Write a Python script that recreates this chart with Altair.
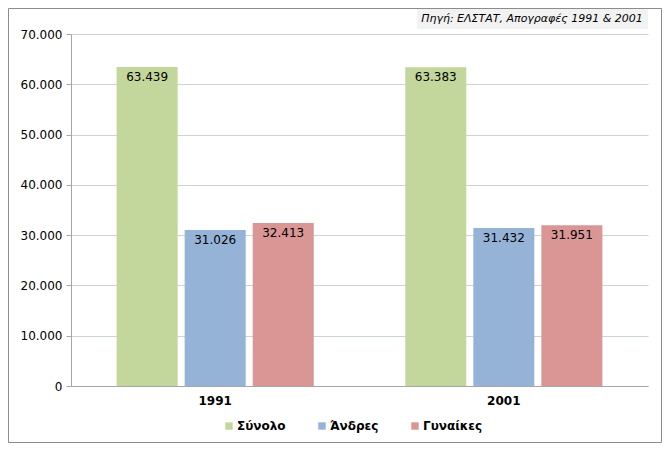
import altair as alt
import pandas as pd

years = ["1991", "2001"]
series = ["Σύνολο", "Άνδρες", "Γυναίκες"]
colors = ["#C3D69B", "#95B3D7", "#D99694"]
values_1991 = [63439, 31026, 32413]
values_2001 = [63383, 31432, 31951]
y_ticks = [0, 10000, 20000, 30000, 40000, 50000, 60000, 70000]
source_text = "Πηγή: ΕΛΣΤΑΤ, Απογραφές 1991 & 2001"

rows = []
for yr, vals in zip(years, [values_1991, values_2001]):
    for s, v in zip(series, vals):
        rows.append({"year": yr, "series": s, "value": v})
df = pd.DataFrame(rows)

FONT = "DejaVu Sans"
W, H = 577, 352

x = alt.X("year:N", sort=years, title=None,
          scale=alt.Scale(paddingInner=0.317, paddingOuter=0.158),
          axis=alt.Axis(labelAngle=0, labelFontWeight="bold", labelFontSize=12,
                        labelColor="#000000", labelFont=FONT, ticks=False,
                        domainColor="#A6A6A6", labelPadding=9))
xoff = alt.XOffset("series:N", sort=series,
                   scale=alt.Scale(paddingInner=0.103, paddingOuter=0))
y = alt.Y("value:Q", title=None,
          scale=alt.Scale(domain=[0, 70000], nice=False),
          axis=alt.Axis(values=y_ticks, labelExpr="replace(format(datum.value, ','), ',', '.')",
                        labelFont=FONT, labelFontSize=12, labelColor="#000000",
                        gridColor="#CDD3DD", domainColor="#A6A6A6", tickColor="#A6A6A6",
                        tickSize=5, labelPadding=4))

base = alt.Chart(df)

bars = base.mark_bar().encode(
    x=x, xOffset=xoff, y=y,
    color=alt.Color("series:N", sort=series,
                    scale=alt.Scale(domain=series, range=colors),
                    legend=alt.Legend(title=None, orient="none", direction="horizontal",
                                      legendX=152, legendY=386, symbolType="square",
                                      symbolSize=55, symbolStrokeWidth=0,
                                      labelFont=FONT, labelFontSize=12, labelFontWeight="bold",
                                      labelColor="#000000", labelOffset=2, columnPadding=30)),
)

labels = base.mark_text(baseline="top", dy=5, font=FONT, fontSize=12, color="#000000").encode(
    x=x, xOffset=xoff, y=y,
    text=alt.Text("label:N"),
).transform_calculate(label="replace(format(datum.value, ','), ',', '.')")

src_df = pd.DataFrame({"source": [source_text]})
src_box = alt.Chart(src_df).mark_rect(fill="#F2F2F2").encode(
    x=alt.value(346), x2=alt.value(577), y=alt.value(-25), y2=alt.value(-5))
src_text = alt.Chart(src_df).mark_text(font=FONT, fontSize=11, fontStyle="italic",
                                       color="#000000").encode(
    x=alt.value(461), y=alt.value(-15), text="source:N")
border = alt.Chart(src_df).mark_rect(fill=None, stroke="#8C8C8C", strokeWidth=1).encode(
    x=alt.value(-62.5), x2=alt.value(590.5), y=alt.value(-25.5), y2=alt.value(408.5))

chart = alt.layer(border, src_box, src_text, bars, labels).properties(
    width=W, height=H,
    autosize=alt.AutoSizeParams(type="none"),
    padding={"left": 63, "top": 26, "right": 14, "bottom": 58},
    background="#FFFFFF",
).configure_view(stroke=None)

chart.save("out.html", embed_options={"renderer": "svg", "actions": False})
